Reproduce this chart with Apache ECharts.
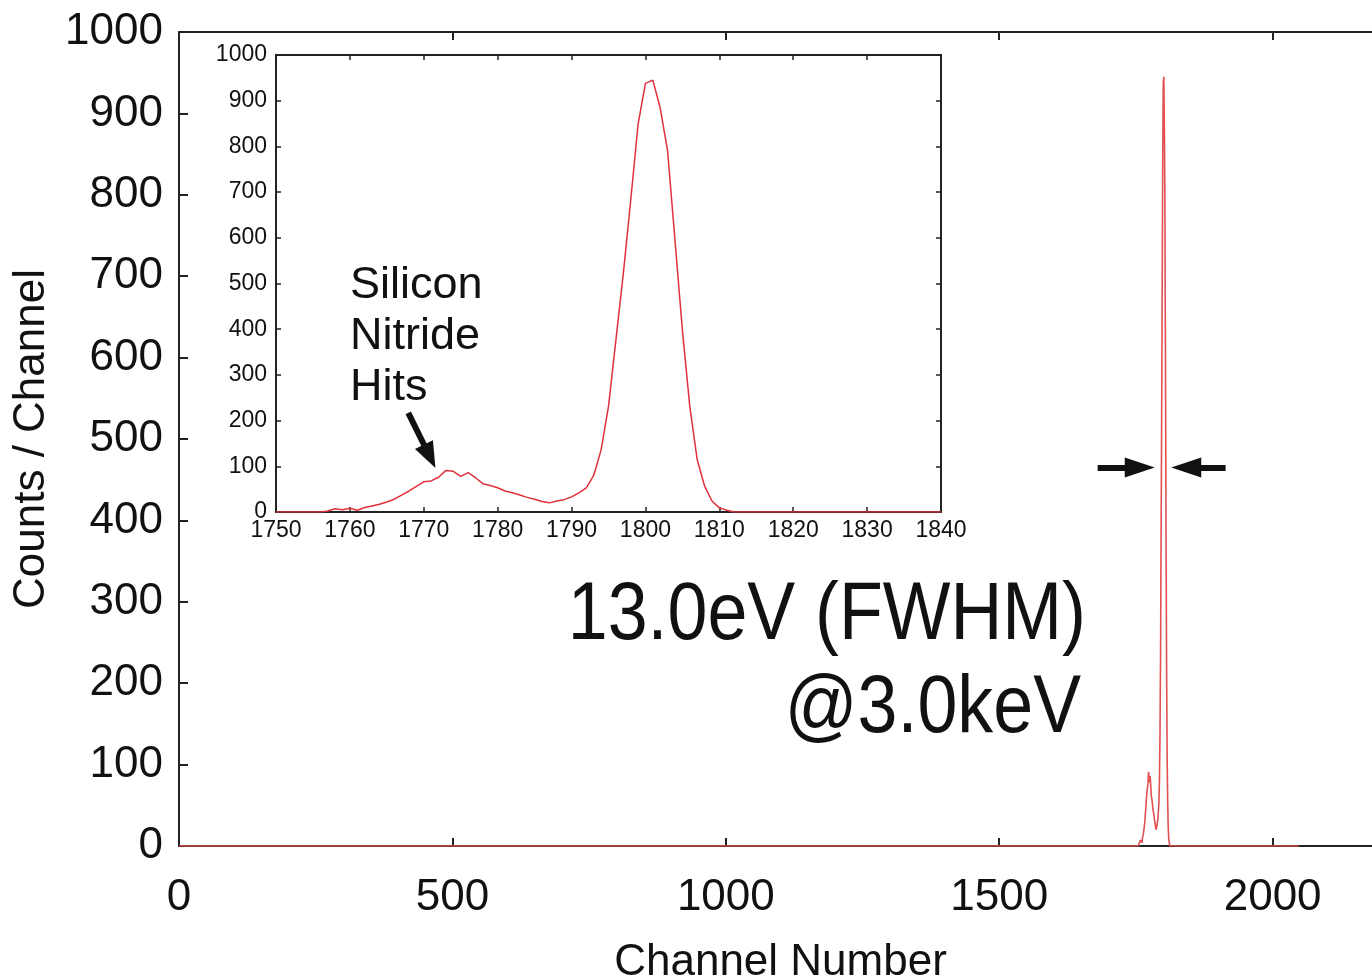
<!DOCTYPE html>
<html>
<head>
<meta charset="utf-8">
<script src="https://cdn.jsdelivr.net/npm/echarts@6/dist/echarts.min.js"></script>
<style>
  html, body { margin: 0; padding: 0; background: #fff; }
  #chart { width: 1372px; height: 980px; }
</style>
</head>
<body>
<div id="chart"></div>
<script>
// ---- data ----
const insetChannels = [1750,1751,1752,1753,1754,1755,1756,1757,1758,1759,1760,1761,1762,1763,1764,1765,1766,1767,1768,1769,1770,1771,1772,1773,1774,1775,1776,1777,1778,1779,1780,1781,1782,1783,1784,1785,1786,1787,1788,1789,1790,1791,1792,1793,1794,1795,1796,1797,1798,1799,1800,1801,1802,1803,1804,1805,1806,1807,1808,1809,1810,1811,1812,1815,1820,1825,1830,1835,1840];
const insetCounts   = [0,0,0,0,0,0,0,2,7,5,8,4,10,13,17,22,28,37,46,56,66,68,76,91,89,78,86,75,62,58,53,46,42,37,32,28,23,20,24,27,33,42,53,80,136,231,376,521,681,848,938,945,884,790,594,398,231,115,57,24,9,4,0,0,0,0,0,0,0];
const spectrumStart = 0;      // first channel of the full spectrum
const spectrumEnd   = 2048;   // last channel of the full spectrum
const mainXTicks  = [0, 500, 1000, 1500, 2000];
const mainYTicks  = [0, 100, 200, 300, 400, 500, 600, 700, 800, 900, 1000];
const insetXTicks = [1750, 1760, 1770, 1780, 1790, 1800, 1810, 1820, 1830, 1840];
const insetYTicks = [0, 100, 200, 300, 400, 500, 600, 700, 800, 900, 1000];
// FWHM arrows (channel, counts) and label-arrow in the inset
const fwhmLeftArrow  = [[1680, 465], [1757, 465]];
const fwhmRightArrow = [[1914, 465], [1842, 465]];
const hitsArrow      = [[1767.9, 217], [1770.8, 122]];

const insetData = insetChannels.map((c, i) => [c, insetCounts[i]]);
const mainData = [[spectrumStart, 0]].concat(insetData).concat([[spectrumEnd, 0]]);

const FONT = '"Liberation Sans", Arial, Helvetica, sans-serif';
const INK = '#111';
const plain = v => String(v);

const chart = echarts.init(document.getElementById('chart'), null, { renderer: 'canvas' });

function axisCommon(extra) {
  return Object.assign({
    type: 'value',
    splitLine: { show: false },
    axisLine: { show: true, onZero: false, lineStyle: { color: '#222', width: 2 } },
    axisTick: { show: true, inside: true, length: 8, lineStyle: { color: '#222', width: 2 } },
    axisLabel: { show: false }
  }, extra);
}

const option = {
  animation: false,
  backgroundColor: '#fff',
  grid: [
    { left: 179, right: -10, top: 32, bottom: 134, show: false, containLabel: false, outerBoundsMode: 'none' },
    { left: 276, top: 55, width: 665, height: 457, show: true, backgroundColor: '#fff',
      borderColor: '#222', borderWidth: 2, z: 1, containLabel: false, outerBoundsMode: 'none' }
  ],
  xAxis: [
    axisCommon({
      gridIndex: 0, min: mainXTicks[0], max: 2200, interval: 500, position: 'bottom',
      axisLabel: { show: true, fontSize: 44, color: INK, fontFamily: FONT, margin: 30,
                   showMaxLabel: false,
                   formatter: v => (mainXTicks.indexOf(v) >= 0 ? String(v) : '') },
      name: 'Channel Number', nameLocation: 'middle', nameGap: 95,
      nameTextStyle: { fontSize: 44, color: INK, fontFamily: FONT }
    }),
    axisCommon({ gridIndex: 0, min: 0, max: 2200, interval: 500, position: 'top' }),
    axisCommon({
      gridIndex: 1, min: insetXTicks[0], max: insetXTicks[insetXTicks.length - 1], interval: 10,
      position: 'bottom', z: 3,
      axisTick: { show: true, inside: true, length: 5, lineStyle: { color: '#222', width: 1.5 } },
      axisLabel: { show: true, fontSize: 23, color: INK, fontFamily: FONT, margin: 7, formatter: plain }
    }),
    axisCommon({
      gridIndex: 1, min: 1750, max: 1840, interval: 10, position: 'top', z: 3,
      axisTick: { show: true, inside: true, length: 5, lineStyle: { color: '#222', width: 1.5 } }
    })
  ],
  yAxis: [
    axisCommon({
      gridIndex: 0, min: mainYTicks[0], max: mainYTicks[mainYTicks.length - 1], interval: 100,
      position: 'left',
      axisTick: { show: true, inside: true, length: 9, lineStyle: { color: '#222', width: 2 } },
      axisLabel: { show: true, fontSize: 44, color: INK, fontFamily: FONT, margin: 16, formatter: plain },
      name: 'Counts / Channel', nameLocation: 'middle', nameGap: 103, nameRotate: 90,
      nameTextStyle: { fontSize: 44, color: INK, fontFamily: FONT }
    }),
    axisCommon({
      gridIndex: 0, min: 0, max: 1000, interval: 100, position: 'right',
      axisTick: { show: true, inside: true, length: 9, lineStyle: { color: '#222', width: 2 } }
    }),
    axisCommon({
      gridIndex: 1, min: insetYTicks[0], max: insetYTicks[insetYTicks.length - 1], interval: 100,
      position: 'left', z: 3,
      axisTick: { show: true, inside: true, length: 5, lineStyle: { color: '#222', width: 1.5 } },
      axisLabel: { show: true, fontSize: 23, color: INK, fontFamily: FONT, margin: 9, formatter: plain }
    }),
    axisCommon({
      gridIndex: 1, min: 0, max: 1000, interval: 100, position: 'right', z: 3,
      axisTick: { show: true, inside: true, length: 5, lineStyle: { color: '#222', width: 1.5 } }
    })
  ],
  series: [
    {
      name: 'spectrum', type: 'line', xAxisIndex: 0, yAxisIndex: 0, z: 4,
      data: mainData, showSymbol: false, symbol: 'none', smooth: false,
      lineStyle: { color: '#e25050', width: 1.6 },
      markLine: {
        silent: true, animation: false,
        symbol: ['none', 'triangle'],
        lineStyle: { color: INK, width: 6, type: 'solid', opacity: 1 },
        label: { show: false },
        emphasis: { disabled: true },
        data: [
          [ { coord: fwhmLeftArrow[0] },  { coord: fwhmLeftArrow[1],  symbolSize: [20, 30] } ],
          [ { coord: fwhmRightArrow[0] }, { coord: fwhmRightArrow[1], symbolSize: [20, 30] } ]
        ]
      }
    },
    {
      name: 'inset', type: 'line', xAxisIndex: 2, yAxisIndex: 2, z: 5,
      data: insetData, showSymbol: false, symbol: 'none', smooth: false,
      lineStyle: { color: '#e0303a', width: 1.5 },
      markLine: {
        silent: true, animation: false,
        symbol: ['none', 'triangle'],
        lineStyle: { color: INK, width: 6, type: 'solid', opacity: 1 },
        label: { show: false },
        emphasis: { disabled: true },
        data: [
          [ { coord: hitsArrow[0] }, { coord: hitsArrow[1], symbolSize: [20, 26] } ]
        ]
      }
    }
  ],
  graphic: [
    { type: 'text', x: 1086, y: 616, scaleX: 0.875, z: 10,
      style: { text: '13.0eV (FWHM)', font: '82px ' + FONT, fill: INK,
               align: 'right', textAlign: 'right', verticalAlign: 'middle', textVerticalAlign: 'middle' } },
    { type: 'text', x: 1081, y: 709, scaleX: 0.875, z: 10,
      style: { text: '@3.0keV', font: '82px ' + FONT, fill: INK,
               align: 'right', textAlign: 'right', verticalAlign: 'middle', textVerticalAlign: 'middle' } },
    { type: 'text', x: 350, y: 260, z: 10,
      style: { text: 'Silicon\nNitride\nHits', font: '45px ' + FONT, fill: INK, lineHeight: 51,
               align: 'left', textAlign: 'left', verticalAlign: 'top', textVerticalAlign: 'top' } }
  ]
};
chart.setOption(option);
</script>
</body>
</html>
